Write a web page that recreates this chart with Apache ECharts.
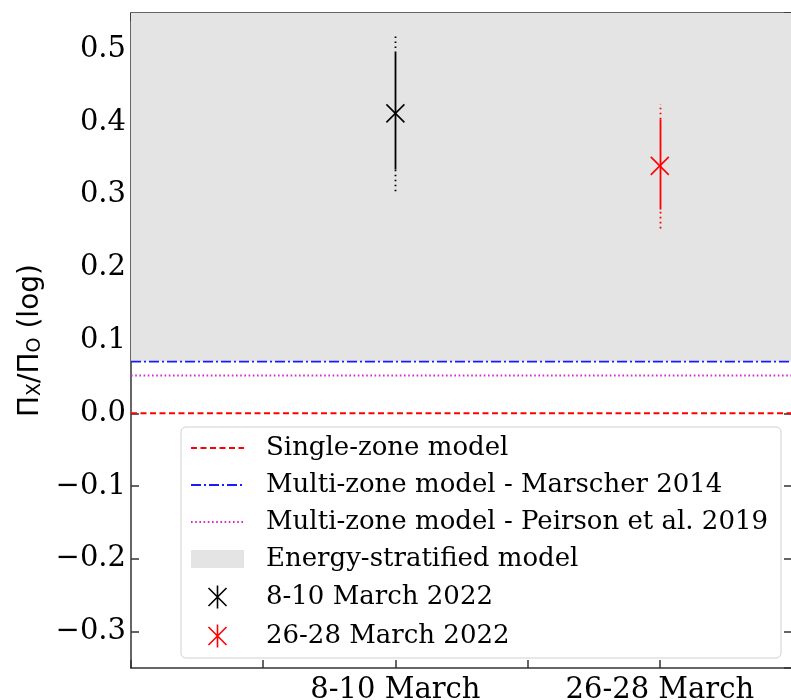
<!DOCTYPE html>
<html>
<head>
<meta charset="utf-8">
<script src="https://cdn.jsdelivr.net/npm/echarts@6/dist/echarts.min.js"></script>
<style>html,body{margin:0;padding:0;background:#fff;}#c{width:791px;height:700px;}</style>
</head>
<body>
<div id="c"></div>
<script>
// ---- data ----
const categoryPositions = [1, 2];
const categoryLabels = ['8-10 March', '26-28 March'];
const yTickLabels = ['−0.3', '−0.2', '−0.1', '0.0', '0.1', '0.2', '0.3', '0.4', '0.5'];

const modelNames = ['Single-zone model', 'Multi-zone model - Marscher 2014', 'Multi-zone model - Peirson et al. 2019'];
const modelValues = [0.0, 0.071, 0.052];

const bandName = 'Energy-stratified model';
const bandRange = [0.071, 0.6];

const obsNames = ['8-10 March 2022', '26-28 March 2022'];
const obsX = [1, 2];
const obsCenter = [0.412, 0.340];
const obsStatLow = [0.335, 0.280];
const obsStatHigh = [0.495, 0.404];
const obsTotLow = [0.305, 0.254];
const obsTotHigh = [0.520, 0.425];

// ---- styles ----
const modelColors = ['#ff0000', '#1a1aff', '#d42ad4'];
const modelDash = [[6, 3.5], [10, 3, 2, 3], [1.6, 2.6]];
const obsColors = ['#000000', '#ff0000'];
const bandColor = '#e4e4e4';
const serif = 'DejaVu Serif';

const chart = echarts.init(document.getElementById('c'), null, {renderer: 'canvas'});

const series = [];

// energy-stratified band
series.push({
  name: bandName,
  type: 'custom',
  clip: true,
  z: 1,
  itemStyle: {color: bandColor},
  data: [[0, bandRange[0], 2.5, bandRange[1]]],
  renderItem: function (params, api) {
    const p1 = api.coord([api.value(0), api.value(3)]);
    const p2 = api.coord([api.value(2), api.value(1)]);
    return {
      type: 'rect',
      shape: {x: p1[0], y: p1[1], width: p2[0] - p1[0], height: p2[1] - p1[1]},
      style: {fill: bandColor}
    };
  }
});

// model lines
modelNames.forEach(function (n, i) {
  series.push({
    name: n,
    type: 'line',
    z: 2,
    symbol: 'none',
    showSymbol: false,
    silent: true,
    lineStyle: {color: modelColors[i], width: 1.9, type: modelDash[i]},
    itemStyle: {color: modelColors[i], opacity: 0},
    data: [[0, modelValues[i]], [2.5, modelValues[i]]]
  });
});

// error bars + markers
obsNames.forEach(function (n, i) {
  const col = obsColors[i];
  series.push({
    type: 'custom',
    z: 3,
    silent: true,
    data: [[obsX[i], obsTotLow[i], obsStatLow[i], obsStatHigh[i], obsTotHigh[i]]],
    renderItem: function (params, api) {
      const x = api.value(0);
      const a = api.coord([x, api.value(1)]);
      const b = api.coord([x, api.value(2)]);
      const c = api.coord([x, api.value(3)]);
      const d = api.coord([x, api.value(4)]);
      const px = Math.round(a[0]) + 0.5;
      return {
        type: 'group',
        children: [
          {type: 'line', shape: {x1: px, y1: b[1], x2: px, y2: c[1]}, style: {stroke: col, lineWidth: 1.8}},
          {type: 'line', shape: {x1: px, y1: c[1], x2: px, y2: d[1]}, style: {stroke: col, lineWidth: 1.8, lineDash: [1.6, 3.4]}},
          {type: 'line', shape: {x1: px, y1: a[1], x2: px, y2: b[1]}, style: {stroke: col, lineWidth: 1.8, lineDash: [1.6, 3.4]}}
        ]
      };
    }
  });
  series.push({
    name: n,
    type: 'scatter',
    z: 4,
    symbol: 'path://M0,0L10,10M10,0L0,10',
    symbolSize: 18,
    itemStyle: {color: 'none', borderColor: col, borderWidth: 1.6, opacity: 1},
    data: [[obsX[i], obsCenter[i]]]
  });
});

const asterisk = 'path://M0,2.5L18,20.5M18,2.5L0,20.5M9,0L9,23';

function yFmt(v) {
  const k = Math.round(v * 10);
  if (Math.abs(v * 10 - k) > 1e-6) return '';
  const idx = k + 3;
  return yTickLabels[idx] !== undefined ? yTickLabels[idx] : '';
}
function xFmt(v) {
  const idx = categoryPositions.indexOf(Math.round(v * 10) / 10);
  return idx >= 0 ? categoryLabels[idx] : '';
}

const axisLineStyle = {color: '#333', width: 1.5};
const tickStyle = {color: '#333', width: 1.5};

const option = {
  animation: false,
  backgroundColor: '#ffffff',
  grid: {left: 131, top: 13, width: 661, height: 655, containLabel: false, outerBoundsMode: 'none'},
  xAxis: [
    {
      type: 'value', min: 0, max: 2.5, interval: 0.5, position: 'bottom',
      axisLine: {show: true, onZero: false, lineStyle: axisLineStyle},
      axisTick: {show: true, inside: true, length: 8, lineStyle: tickStyle},
      axisLabel: {formatter: xFmt, fontFamily: serif, fontSize: 29, color: '#000', margin: 8},
      splitLine: {show: false}
    },
    {
      type: 'value', min: 0, max: 2.5, interval: 0.5, position: 'top',
      axisLine: {show: true, onZero: false, lineStyle: axisLineStyle},
      axisTick: {show: true, inside: true, length: 8, lineStyle: tickStyle},
      axisLabel: {show: false},
      splitLine: {show: false}
    }
  ],
  yAxis: [
    {
      type: 'value', min: -0.35, max: 0.55, splitNumber: 9, position: 'left',
      axisLine: {show: true, onZero: false, lineStyle: axisLineStyle},
      axisTick: {show: true, inside: true, length: 8, lineStyle: tickStyle},
      axisLabel: {formatter: yFmt, fontFamily: serif, fontSize: 29, color: '#000', margin: 5,
                  showMinLabel: false, showMaxLabel: false},
      splitLine: {show: false},
      name: '{a|Π}{s|X}{a|/Π}{s|O}{a| (log)}',
      nameLocation: 'middle',
      nameGap: 86,
      nameTextStyle: {
        color: '#000',
        rich: {
          a: {fontFamily: 'DejaVu Sans', fontSize: 28, color: '#000', lineHeight: 34, verticalAlign: 'bottom'},
          s: {fontFamily: 'DejaVu Sans', fontSize: 19, color: '#000', lineHeight: 26, verticalAlign: 'bottom'}
        }
      }
    },
    {
      type: 'value', min: -0.35, max: 0.55, splitNumber: 9, position: 'right',
      axisLine: {show: true, onZero: false, lineStyle: axisLineStyle},
      axisTick: {show: true, inside: true, length: 8, lineStyle: tickStyle},
      axisLabel: {show: false},
      splitLine: {show: false}
    }
  ],
  legend: {
    orient: 'vertical',
    left: 181,
    top: 427,
    itemWidth: 53,
    itemHeight: 23,
    itemGap: 11,
    padding: [8, 13, 8, 9],
    backgroundColor: 'rgba(255,255,255,0.8)',
    borderColor: '#d0d0d0',
    borderWidth: 1,
    borderRadius: 5,
    selectedMode: false,
    textStyle: {fontFamily: serif, fontSize: 26, lineHeight: 23, color: '#000', padding: [0, 0, 0, 17]},
    data: [
      {name: modelNames[0], itemStyle: {opacity: 0}},
      {name: modelNames[1], itemStyle: {opacity: 0}},
      {name: modelNames[2], itemStyle: {opacity: 0}},
      {name: bandName, icon: 'path://M0,0H53V18H0Z', itemStyle: {color: bandColor}},
      {name: obsNames[0], icon: asterisk, itemStyle: {color: 'none', borderColor: obsColors[0], borderWidth: 1.6}},
      {name: obsNames[1], icon: asterisk, itemStyle: {color: 'none', borderColor: obsColors[1], borderWidth: 1.6}}
    ]
  },
  series: series
};

chart.setOption(option);
</script>
</body>
</html>
